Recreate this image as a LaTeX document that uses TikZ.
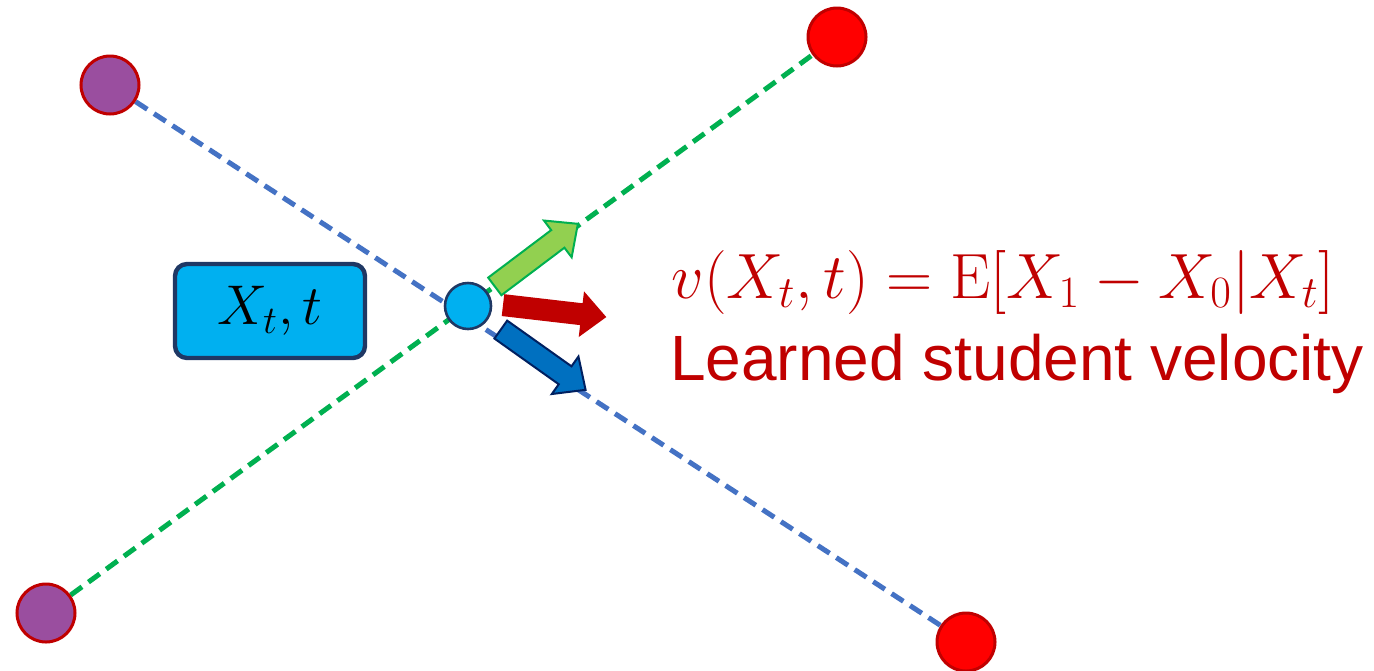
\RequirePackage{fix-cm}
\documentclass[tikz,border=0pt]{standalone}
\usepackage{fontspec}
\newfontfamily\labelfont{Liberation Sans}
\usetikzlibrary{shapes.arrows,backgrounds}

\definecolor{darkred}{HTML}{C00000}
\definecolor{tgtred}{HTML}{FF0000}
\definecolor{srcpurple}{HTML}{9A4E9F}
\definecolor{boxcyan}{HTML}{00B0F0}
\definecolor{boxnavy}{HTML}{1F3864}
\definecolor{lineblue}{HTML}{4472C4}
\definecolor{linegreen}{HTML}{00B050}
\definecolor{leafgreen}{HTML}{92D050}
\definecolor{velblue}{HTML}{0070C0}
\definecolor{velnavy}{HTML}{002060}

\begin{document}
\begin{tikzpicture}[
    x=0.5pt,
    y=-0.5pt,
    endpt/.style={circle, draw=darkred, line width=1.5pt, minimum size=29pt, inner sep=0pt},
    src/.style={endpt, fill=srcpurple},
    tgt/.style={endpt, fill=tgtred},
    pathline/.style={dash pattern=on 7pt off 4pt, line width=2.5pt},
    vel/.style={single arrow, anchor=tail, inner sep=0pt, minimum width=0pt, minimum height=52pt, text height=5pt, text depth=5pt, text width=0pt, single arrow head extend=6pt, single arrow tip angle=85, line width=1pt}
]
\useasboundingbox (0,0) rectangle (1374,670);

\node[src] (srcA) at (110,85) {};
\node[tgt] (tgtA) at (837,37) {};
\node[src] (srcB) at (46,613) {};
\node[tgt] (tgtB) at (966,642) {};
\node[circle, draw=boxnavy, fill=boxcyan, line width=1.3pt, minimum size=23pt, inner sep=0pt] (xt) at (468,306) {};
\node[draw=boxnavy, fill=boxcyan, line width=2.2pt, rounded corners=6pt, minimum width=95pt, minimum height=47pt, font=\fontsize{28}{34}\selectfont] (state) at (270,311) {$X_t,t$};

\node[vel, fill=leafgreen, draw=linegreen, rotate=37] (vupper) at (494,287) {};
\node[vel, fill=darkred, rotate=-6.6] (vstudent) at (502,305) {};
\node[vel, fill=velblue, draw=velnavy, rotate=-35.4] (vlower) at (500,329) {};

\node[anchor=base, text=darkred, font=\fontsize{32}{38}\selectfont] (formula) at (1003,298) {$v(X_t,t)=\mathrm{E}[X_1-X_0|X_t]$};
\node[anchor=base, text=darkred, font=\labelfont\fontsize{32}{38}\selectfont] (caption) at (1017,380) {Learned student velocity};

\begin{pgfonlayer}{background}
\draw[pathline, lineblue] (srcA) -- (tgtB);
\draw[pathline, linegreen] (srcB) -- (tgtA);
\end{pgfonlayer}
\end{tikzpicture}
\end{document}
